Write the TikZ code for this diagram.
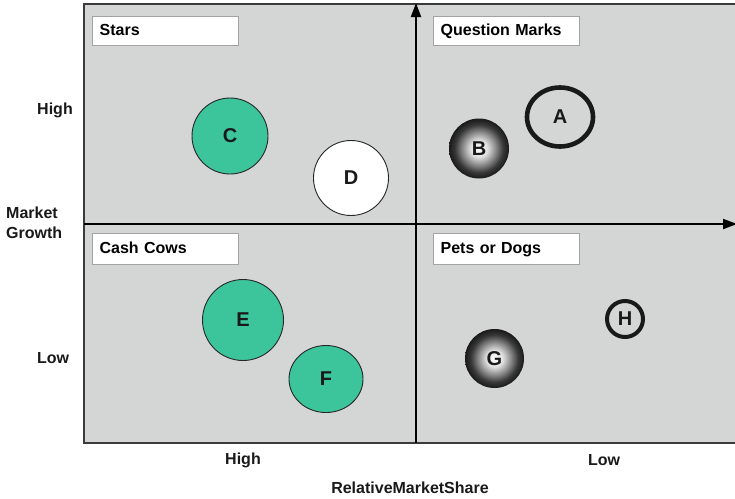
\documentclass[tikz,border=0pt]{standalone}
\usepackage{fontspec}
\setmainfont{Liberation Sans}
\usetikzlibrary{arrows.meta,shapes.geometric}
\definecolor{panelgray}{HTML}{D4D5D5}
\definecolor{framegray}{HTML}{3A3A3A}
\definecolor{boxedge}{HTML}{A3A3A3}
\definecolor{cowgreen}{HTML}{3CC59A}
\pgfdeclareradialshading{darksphere}{\pgfpoint{0bp}{0bp}}{%
  color(0bp)=(white); color(7bp)=(white!88!black);
  color(15bp)=(black!52); color(20bp)=(black!78); color(25bp)=(black!90);
  color(50bp)=(black!90)}
\tikzset{
  quadlabel/.style={draw=boxedge, line width=1.3pt, fill=white, anchor=north west,
    minimum width=146pt, text width=132pt, inner xsep=7pt, align=left,
    text height=12pt, text depth=3.5pt,
    font=\bfseries\fontsize{16}{18}\selectfont},
  axislabel/.style={font=\bfseries\fontsize{16}{20}\selectfont, text=black!90},
  bubble/.style={circle, inner sep=0pt, font=\bfseries\fontsize{20}{20}\selectfont, text=black!90},
  greenbubble/.style={bubble, draw=black!85, line width=0.9pt, fill=cowgreen},
  whitebubble/.style={bubble, draw=black!85, line width=0.9pt, fill=white},
  ringbubble/.style={bubble, draw=black!90, line width=4.6pt},
  spherebubble/.style={bubble, shading=darksphere},
  axisarrow/.style={line width=2pt, black, -{Triangle[length=14pt, width=10pt]}}
}
\begin{document}
\begin{tikzpicture}[x=1pt, y=-1pt]
  \useasboundingbox (0,0) rectangle (735,498);

  % panel background and frame
  \fill[panelgray] (84,4) rectangle (760,443);
  \draw[framegray, line width=2.4pt] (760,4) -- (84,4) -- (84,443) -- (760,443);

  % axes
  \coordinate (ybase) at (416,443);
  \coordinate (ytip) at (416,3);
  \coordinate (xbase) at (84,224);
  \coordinate (xtip) at (737,224);
  \draw[axisarrow] (xbase) -- (xtip);
  \draw[axisarrow] (ybase) -- (ytip);

  % quadrant titles
  \node[quadlabel, minimum height=29pt] (stars) at (92,16) {Stars};
  \node[quadlabel, minimum height=29pt] (qmarks) at (433,16) {Question Marks};
  \node[quadlabel, minimum height=31pt] (cows) at (92,233) {Cash Cows};
  \node[quadlabel, minimum height=31pt] (dogs) at (433,233) {Pets or Dogs};

  % axis labels
  \node[axislabel] (yhigh) at (55,110) {High};
  \node[axislabel] (ylow) at (53,358) {Low};
  \node[axislabel, anchor=west, align=left, inner sep=0pt] (ytitle) at (6,223)
    {Market\\Growth};
  \node[axislabel] (xhigh) at (243,460) {High};
  \node[axislabel] (xlow) at (604,460) {Low};
  \node[axislabel] (xtitle) at (410,488) {RelativeMarketShare};

  % business units
  \node[greenbubble, minimum size=76pt] (C) at (230,136) {C};
  \node[whitebubble, minimum size=75pt] (D) at (351,178) {D};
  \node[greenbubble, minimum size=81pt] (E) at (243,320) {E};
  \node[greenbubble, ellipse, minimum width=74pt, minimum height=67pt] (F) at (326,379) {F};
  \node[ringbubble, ellipse, minimum width=66pt, minimum height=59pt] (A) at (560,117) {A};
  \node[ringbubble, line width=4pt, minimum size=36pt] (H) at (625,319) {H};
  \node[spherebubble, minimum size=60pt] (B) at (479,148.5) {B};
  \node[spherebubble, minimum size=59pt] (G) at (494.5,358.5) {G};
\end{tikzpicture}
\end{document}
